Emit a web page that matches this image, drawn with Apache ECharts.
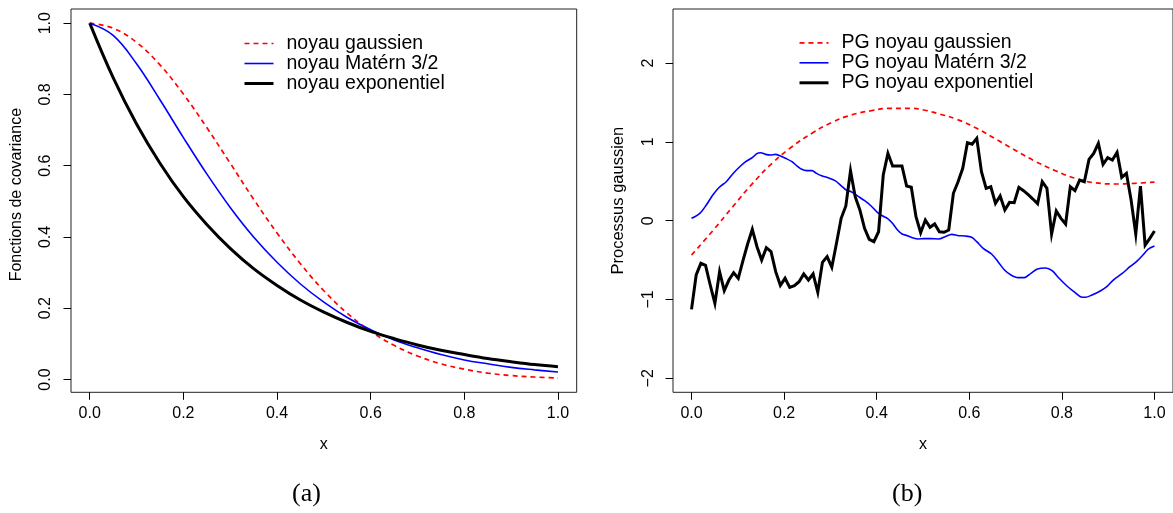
<!DOCTYPE html>
<html>
<head>
<meta charset="utf-8">
<script src="https://cdn.jsdelivr.net/npm/echarts@6/dist/echarts.min.js"></script>
<style>
html,body{margin:0;padding:0;background:#fff;}
#chart{width:1173px;height:513px;}
</style>
</head>
<body>
<div id="chart"></div>
<script>
// ---------- Panel (a): covariance functions ----------
const xCov = [0,0.05,0.10,0.15,0.20,0.25,0.30,0.35,0.40,0.45,0.50,0.55,0.60,0.65,0.70,0.75,0.80,0.85,0.90,0.95,1.00];
const covGauss = [1,0.986,0.946,0.883,0.801,0.707,0.607,0.506,0.411,0.325,0.249,0.186,0.135,0.096,0.066,0.044,0.029,0.018,0.011,0.007,0.004];
const covMatern = [1,0.966,0.886,0.785,0.679,0.577,0.483,0.400,0.329,0.268,0.217,0.174,0.140,0.111,0.089,0.070,0.055,0.044,0.034,0.027,0.021];
const covExp = [1,0.847,0.717,0.607,0.513,0.435,0.368,0.311,0.264,0.223,0.189,0.160,0.135,0.115,0.097,0.082,0.070,0.059,0.050,0.042,0.036];

// ---------- Panel (b): Gaussian process samples ----------
const xRed = [0,0.046,0.089,0.132,0.174,0.217,0.26,0.302,0.345,0.388,0.43,0.473,0.502,0.53,0.573,0.616,0.658,0.701,0.744,0.786,0.829,0.872,0.915,0.957,1.0];
const yRed = [-0.435,-0.127,0.178,0.474,0.728,0.939,1.109,1.244,1.341,1.396,1.426,1.426,1.405,1.363,1.287,1.172,1.033,0.888,0.749,0.635,0.538,0.482,0.466,0.474,0.49];

const xBlue = [0,0.018,0.032,0.046,0.06,0.075,0.089,0.103,0.117,0.132,0.142,0.149,0.16,0.171,0.181,0.192,0.203,0.217,0.228,0.238,0.249,0.26,0.27,0.281,0.295,0.31,0.324,0.334,0.345,0.359,0.374,0.388,0.402,0.413,0.423,0.434,0.445,0.455,0.466,0.477,0.49,0.502,0.516,0.534,0.548,0.562,0.577,0.591,0.605,0.616,0.63,0.648,0.662,0.676,0.69,0.705,0.719,0.733,0.747,0.765,0.779,0.794,0.811,0.826,0.84,0.851,0.865,0.883,0.897,0.911,0.929,0.947,0.961,0.975,0.986,1.0];
const yBlue = [0.03,0.094,0.199,0.326,0.424,0.495,0.593,0.678,0.749,0.804,0.855,0.863,0.842,0.834,0.842,0.821,0.792,0.749,0.694,0.652,0.635,0.635,0.601,0.571,0.546,0.508,0.44,0.39,0.368,0.313,0.254,0.187,0.102,0.06,0.03,-0.033,-0.118,-0.169,-0.19,-0.216,-0.232,-0.228,-0.228,-0.232,-0.203,-0.173,-0.19,-0.194,-0.211,-0.266,-0.35,-0.423,-0.52,-0.626,-0.689,-0.723,-0.723,-0.668,-0.613,-0.6,-0.635,-0.731,-0.829,-0.901,-0.964,-0.972,-0.943,-0.892,-0.838,-0.753,-0.676,-0.584,-0.52,-0.435,-0.363,-0.321];

// exponential-kernel sample: 100 values on a regular grid over [0, 1]
const yBlack = [
-1.125,-0.689,-0.541,-0.566,-0.816,-1.049,-0.647,-0.888,-0.753,-0.660,
-0.731,-0.508,-0.296,-0.109,-0.330,-0.499,-0.343,-0.393,-0.647,-0.820,
-0.731,-0.846,-0.825,-0.774,-0.676,-0.753,-0.676,-0.909,-0.528,-0.456,
-0.592,-0.287,0.030,0.187,0.635,0.305,0.136,-0.097,-0.236,-0.266,
-0.140,0.580,0.855,0.694,0.694,0.694,0.440,0.424,0.051,-0.152,
0.009,-0.084,-0.042,-0.140,-0.147,-0.118,0.348,0.495,0.665,0.990,
0.970,1.045,0.622,0.411,0.431,0.221,0.313,0.136,0.233,0.229,
0.423,0.381,0.330,0.275,0.216,0.495,0.411,-0.169,0.123,0.030,
-0.042,0.431,0.381,0.516,0.495,0.779,0.855,0.982,0.715,0.800,
0.770,0.868,0.550,0.601,0.263,-0.169,0.440,-0.310,-0.224,-0.131];
const xBlack = yBlack.map((_, i) => i / (yBlack.length - 1));

// tick labels
const xTicks = [0, 0.2, 0.4, 0.6, 0.8, 1.0];
const yTicksA = [0, 0.2, 0.4, 0.6, 0.8, 1.0];
const yTicksB = [-2, -1, 0, 1, 2];

const namesA = ['noyau gaussien', 'noyau Matérn 3/2', 'noyau exponentiel'];
const namesB = ['PG noyau gaussien', 'PG noyau Matérn 3/2', 'PG noyau exponentiel'];

const FONT = 'Liberation Sans, Arial, Helvetica, sans-serif';
const zip = (xs, ys) => xs.map((x, i) => [x, ys[i]]);

function xAxisDef(gi) {
  return {
    type: 'value', gridIndex: gi, min: -0.04, max: 1.04,
    axisLine: { show: false, onZero: false }, splitLine: { show: false },
    axisTick: { show: true, customValues: xTicks, length: 7.5, inside: false, lineStyle: { color: '#000', width: 1 } },
    axisLabel: { customValues: xTicks, formatter: v => Number(v).toFixed(1), fontSize: 16, color: '#000', fontFamily: FONT, margin: 13 },
    name: 'x', nameLocation: 'middle', nameGap: 44,
    nameTextStyle: { fontSize: 16, color: '#000', fontFamily: FONT }
  };
}

function legendDef(names, left, top, lh) {
  return {
    data: names, orient: 'vertical', left: left, top: top, padding: 0, itemGap: 0,
    itemWidth: 29, itemHeight: 10,
    itemStyle: { opacity: 0, borderWidth: 0 },
    lineStyle: { width: 'inherit' },
    textStyle: { fontSize: 19.5, lineHeight: lh, color: '#000', fontFamily: FONT, padding: [0, 0, 0, 8] }
  };
}

const option = {
  animation: false,
  backgroundColor: '#fff',
  title: [
    { text: '(a)', left: 292, top: 481, padding: 0, textStyle: { fontFamily: 'Liberation Serif, Times New Roman, serif', fontWeight: 'normal', fontSize: 26, color: '#000' } },
    { text: '(b)', left: 892, top: 481, padding: 0, textStyle: { fontFamily: 'Liberation Serif, Times New Roman, serif', fontWeight: 'normal', fontSize: 26, color: '#000' } }
  ],
  legend: [
    legendDef(namesA, 243, 33.5, 17.7),
    legendDef(namesB, 798, 32.8, 18.5)
  ],
  grid: [
    { left: 71, top: 9, width: 505.7, height: 383.3, show: true, borderColor: '#222', borderWidth: 1, backgroundColor: 'transparent' },
    { left: 673, top: 9, width: 505.7, height: 383.3, show: true, borderColor: '#222', borderWidth: 1, backgroundColor: 'transparent' }
  ],
  xAxis: [xAxisDef(0), xAxisDef(1)],
  yAxis: [
    { type: 'value', gridIndex: 0, min: -0.0359, max: 1.0398,
      axisLine: { show: false, onZero: false }, splitLine: { show: false },
      axisTick: { show: true, customValues: yTicksA, length: 7.5, lineStyle: { color: '#000', width: 1 } },
      axisLabel: { customValues: yTicksA, formatter: v => Number(v).toFixed(1), rotate: 90, fontSize: 16, color: '#000', fontFamily: FONT, margin: 17 },
      name: 'Fonctions de covariance', nameLocation: 'middle', nameGap: 46,
      nameTextStyle: { fontSize: 16, color: '#000', fontFamily: FONT, padding: [0, 0, 0, 12] } },
    { type: 'value', gridIndex: 1, min: -2.178, max: 2.687,
      axisLine: { show: false, onZero: false }, splitLine: { show: false },
      axisTick: { show: true, customValues: yTicksB, length: 7.5, lineStyle: { color: '#000', width: 1 } },
      axisLabel: { customValues: yTicksB, formatter: v => (v < 0 ? '\u2212' + Math.abs(v) : String(v)), rotate: 90, fontSize: 16, color: '#000', fontFamily: FONT, margin: 16 },
      name: 'Processus gaussien', nameLocation: 'middle', nameGap: 46,
      nameTextStyle: { fontSize: 16.5, color: '#000', fontFamily: FONT } }
  ],
  series: [
    { name: namesA[0], type: 'line', xAxisIndex: 0, yAxisIndex: 0, data: zip(xCov, covGauss), smooth: 0.4, symbol: 'none',
      lineStyle: { color: '#ff0000', width: 1.7, type: [5, 4] }, itemStyle: { color: '#ff0000' } },
    { name: namesA[1], type: 'line', xAxisIndex: 0, yAxisIndex: 0, data: zip(xCov, covMatern), smooth: 0.4, symbol: 'none',
      lineStyle: { color: '#0000ff', width: 1.6 }, itemStyle: { color: '#0000ff' } },
    { name: namesA[2], type: 'line', xAxisIndex: 0, yAxisIndex: 0, data: zip(xCov, covExp), smooth: 0.4, symbol: 'none',
      lineStyle: { color: '#000000', width: 3 }, itemStyle: { color: '#000000' } },

    { name: namesB[0], type: 'line', xAxisIndex: 1, yAxisIndex: 1, data: zip(xRed, yRed), smooth: 0.5, symbol: 'none',
      lineStyle: { color: '#ff0000', width: 1.7, type: [5, 4] }, itemStyle: { color: '#ff0000' } },
    { name: namesB[1], type: 'line', xAxisIndex: 1, yAxisIndex: 1, data: zip(xBlue, yBlue), smooth: 0.3, symbol: 'none',
      lineStyle: { color: '#0000ff', width: 1.6 }, itemStyle: { color: '#0000ff' } },
    { name: namesB[2], type: 'line', xAxisIndex: 1, yAxisIndex: 1, data: zip(xBlack, yBlack), smooth: false, symbol: 'none',
      lineStyle: { color: '#000000', width: 3, join: 'miter' }, itemStyle: { color: '#000000' } }
  ]
};

const chart = echarts.init(document.getElementById('chart'), null, { renderer: 'canvas' });
chart.setOption(option);
</script>
</body>
</html>
